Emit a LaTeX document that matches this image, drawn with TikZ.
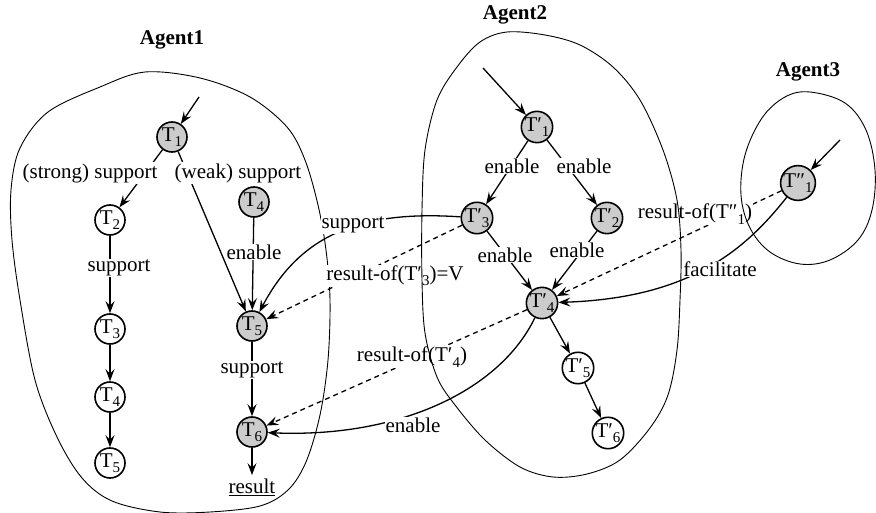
\documentclass[tikz,border=0pt]{standalone}
\usepackage{fontspec}
\setmainfont{Liberation Serif}
\usetikzlibrary{arrows.meta}
\newcommand\tk[2]{T#1\raisebox{-0.55ex}{\fontsize{15}{15}\selectfont #2}}
\begin{document}
\begin{tikzpicture}[x=1pt,y=-1pt,
  every node/.style={font=\fontsize{21}{23}\selectfont},
  task/.style={circle, draw, line width=1.6pt, minimum size=30pt, inner sep=0pt, fill=white},
  shadedtask/.style={task, fill=gray!40},
  lbl/.style={fill=white, inner sep=1pt},
  conn/.style={line width=1.3pt},
  arr/.style={conn, -{Stealth[length=12pt,width=9pt,inset=4.5pt]}},
  dsh/.style={arr, dash pattern=on 5pt off 4pt},
  bound/.style={line width=0.9pt},
  title/.style={font=\bfseries\fontsize{21}{23}\selectfont}]
\useasboundingbox (0,0) rectangle (876,513);

% Agent1 boundary (beneath labels)
\draw[bound] plot[smooth cycle, tension=0.55] coordinates {
  (145,72) (200,78) (250,97) (287,127) (305,160) (318,205) (326,250)
  (330,300) (328,360) (320,415) (306,462) (288,490) (260,506) (210,512)
  (160,512) (112,501) (82,478) (57,437) (35,380) (20,300) (12,240)
  (11,190) (20,148) (48,112) (100,87)};

% titles
\node[title] (t1) at (172,40) {Agent1};
\node[title] (t2) at (515,15) {Agent2};
\node[title] (t3) at (808,72) {Agent3};

% Agent1 tasks
\node[shadedtask] (a1) at (172,137) {\tk{}{1}};
\node[task] (a2) at (110,220) {\tk{}{2}};
\node[task] (a3) at (110,329) {\tk{}{3}};
\node[task] (a4) at (110,397) {\tk{}{4}};
\node[task] (a5) at (110,463) {\tk{}{5}};
\node[shadedtask] (b4) at (254,202) {\tk{}{4}};
\node[shadedtask] (b5) at (252,326) {\tk{}{5}};
\node[shadedtask] (b6) at (252,432) {\tk{}{6}};
\node (res) at (252,487) {\underline{result}};

% Agent2 tasks
\node[shadedtask] (c1) at (537,127) {\tk{′}{1}};
\node[shadedtask] (c3) at (477,218) {\tk{′}{3}};
\node[shadedtask] (c2) at (607,218) {\tk{′}{2}};
\node[shadedtask] (c4) at (542,303) {\tk{′}{4}};
\node[task] (c5) at (578,368) {\tk{′}{5}};
\node[task] (c6) at (608,433) {\tk{′}{6}};

% Agent3 task
\node[shadedtask] (d1) at (798,183) {\tk{″}{1}};

% free ends of incoming arrows
\coordinate (in1) at (199,97);
\coordinate (in2) at (483,68);
\coordinate (in3) at (840,140);

% connectors
\draw[arr] (in1) -- (a1);
\draw[arr] (in2) -- (c1);
\draw[arr] (in3) -- (d1);
\draw[arr] (a1) -- (a2);
\draw[arr] (a1) -- (b5);
\draw[arr] (a2) -- (a3);
\draw[arr] (a3) -- (a4);
\draw[arr] (a4) -- (a5);
\draw[arr] (b4) -- (b5);
\draw[arr] (b5) -- (b6);
\draw[arr] (b6) -- (res);
\draw[arr] (c1) -- (c3);
\draw[arr] (c1) -- (c2);
\draw[arr] (c3) -- (c4);
\draw[arr] (c2) -- (c4);
\draw[arr] (c4) -- (c5);
\draw[arr] (c5) -- (c6);
\draw[arr] (c3) .. controls (360,210) and (300,235) .. (b5);
\draw[dsh] (c3) -- (b5);
\draw[dsh] (c4) -- (b6);
\draw[arr] (c4) .. controls (500,390) and (400,438) .. (b6);
\draw[dsh] (d1) -- (c4);
\draw[arr] (d1) .. controls (745,250) and (690,298) .. (c4);

% labels
\node[lbl] (l1) at (90,173) {(strong) support};
\node[lbl] (l2) at (238,173) {(weak) support};
\node[lbl] (l3) at (119,268) {support};
\node[lbl] (l4) at (254,252) {enable};
\node[lbl] (l5) at (252,370) {support};
\node[lbl] (l6) at (512,166) {enable};
\node[lbl] (l7) at (584,166) {enable};
\node[lbl] (l8) at (505,255) {enable};
\node[lbl] (l9) at (577,250) {enable};
\node[lbl] (l10) at (353,225) {support};
\node[lbl] (l11) at (395,276) {result-of(\tk{′}{3})=V};
\node[lbl] (l12) at (412,357) {result-of(\tk{′}{4})};
\node[lbl] (l13) at (413,425) {enable};
\node[lbl] (l14) at (695,214) {result-of(\tk{″}{1})};
\node[lbl] (l15) at (720,269) {facilitate};

% Agent2 and Agent3 boundaries (on top)
\draw[bound] plot[smooth cycle, tension=0.55] coordinates {
  (507,32) (545,35) (580,45) (613,67) (640,100) (663,150) (677,200)
  (681,250) (680,300) (677,350) (668,395) (650,428) (620,460) (587,474)
  (553,477) (520,467) (485,440) (455,405) (437,377) (425,333) (422,280)
  (422,210) (425,150) (437,100) (457,67) (480,42)};
\draw[bound] plot[smooth cycle, tension=0.6] coordinates {
  (810,92) (845,103) (866,130) (875,170) (872,210) (858,240) (830,260)
  (800,264) (770,252) (750,228) (741,195) (745,155) (762,118) (785,97)};
\end{tikzpicture}
\end{document}
